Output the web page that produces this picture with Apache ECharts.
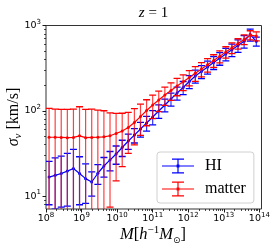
<!DOCTYPE html>
<html><head><meta charset="utf-8">
<script src="https://cdn.jsdelivr.net/npm/echarts@6/dist/echarts.min.js"></script>
<style>html,body{margin:0;padding:0;background:#fff}#c{width:274px;height:251px}</style>
</head><body><div id="c"></div>
<script>
// halo mass bin centres [h^-1 Msun]
const massBins = [1.22e8, 1.81e8, 2.68e8, 3.98e8, 5.91e8, 8.77e8, 1.30e9, 1.93e9, 2.87e9, 4.25e9,
  6.31e9, 9.36e9, 1.39e10, 2.06e10, 3.06e10, 4.54e10, 6.74e10, 1.00e11, 1.48e11, 2.20e11,
  3.27e11, 4.85e11, 7.20e11, 1.07e12, 1.58e12, 2.35e12, 3.49e12, 5.18e12, 7.69e12, 1.14e13,
  1.69e13, 2.51e13, 3.73e13, 5.53e13, 8.21e13];
// HI velocity dispersion [km/s] and errors
const hiSigma = [16.7, 17.5, 18.4, 19.6, 21.0, 18.4, 16.0, 14.6, 18.5, 22.5,
  26.5, 31.1, 37.1, 44.2, 51.9, 61.1, 71.8, 84.5, 99.4, 116.9,
  137.4, 161.6, 187.3, 220.2, 255.3, 288.4, 325.7, 367.8, 412, 462.5,
  518, 582, 651.7, 782, 652];
const hiErr = [8.8, 10.5, 11, 12, 14.3, 10.5, 7.8, 4.6, 4.8, 5.8,
  6.8, 7.5, 8, 9, 10, 12, 14, 16, 18, 20,
  24, 28, 33, 38, 44, 50, 56, 63, 70, 78,
  87, 97, 108, 125, 78];
// matter velocity dispersion [km/s] and errors
const matterSigma = [48.9, 48.9, 48.7, 48.4, 48.7, 50.8, 48.4, 48.7, 48.9, 49.5,
  50.9, 54.1, 57.8, 63.6, 72.8, 85.5, 100.7, 116.7, 133.7, 152.8,
  172.6, 195.0, 218.3, 245.5, 274.8, 308.3, 345.9, 388.2, 434.5, 488.7,
  547.0, 613.8, 687.1, 772.7, 751.6];
const matterErr = [57.9, 55.8, 55.2, 55.5, 56, 60.7, 55.5, 56, 53.1, 50.6,
  43.5, 39, 35.7, 32, 33, 34, 34, 36, 36, 37,
  40, 45, 46, 50, 54, 58, 62, 66, 70, 75,
  80, 85, 90, 95, 90];
const xTickExp = [8, 9, 10, 11, 12, 13, 14];
const yTickExp = [1, 2, 3];
const seriesNames = ['HI', 'matter'];

const X_MIN = 8, X_MAX = 14.06, Y_MIN = 0.848, Y_MAX = 3;
const L = Math.log10;

function minorTicks(lo, hi) {
  const out = [];
  for (let n = Math.floor(lo) - 1; n <= Math.ceil(hi); n++) {
    for (let k = 2; k <= 9; k++) {
      const v = n + L(k);
      if (v > lo && v < hi) out.push(v);
    }
  }
  return out;
}

function errData(sig, err) {
  return massBins.map((m, i) => {
    const lo = sig[i] - err[i];
    return [L(m), lo > 0 ? L(lo) : Y_MIN - 1, L(sig[i] + err[i]), lo > 0 ? 1 : 0];
  });
}
function lineData(sig) { return massBins.map((m, i) => [L(m), L(sig[i])]); }

function makeErrRender(barColor, capColor) {
  return function (params, api) {
    const x = api.value(0);
    const top = api.coord([x, api.value(2)]);
    const bot = api.coord([x, api.value(1)]);
    const hw = 3.5;
    const ch = [
      { type: 'line', shape: { x1: top[0], y1: top[1], x2: bot[0], y2: bot[1] }, style: { stroke: barColor, lineWidth: 1.2 } },
      { type: 'line', shape: { x1: top[0] - hw, y1: top[1], x2: top[0] + hw, y2: top[1] }, style: { stroke: capColor, lineWidth: 1.3 } }
    ];
    if (api.value(3)) ch.push({ type: 'line', shape: { x1: bot[0] - hw, y1: bot[1], x2: bot[0] + hw, y2: bot[1] }, style: { stroke: capColor, lineWidth: 1.3 } });
    return { type: 'group', children: ch };
  };
}

const tickRich = {
  b: { fontSize: 9.5, fontFamily: 'DejaVu Sans', color: '#000', lineHeight: 14 },
  s: { fontSize: 7, fontFamily: 'DejaVu Sans', color: '#000', lineHeight: 5, verticalAlign: 'top' }
};
const expFmt = v => '{b|10}{s|' + Math.round(v) + '}';

const serif = 'Liberation Serif';
const errIcon = 'path://M0,6.9h32v1.2h-32Z M15.4,0h1.2v15h-1.2Z M10,0h12v1.3h-12Z M10,13.7h12v1.3h-12Z M14.6,6.1h2.8v2.8h-2.8Z';

const chart = echarts.init(document.getElementById('c'), null, { renderer: 'canvas' });
chart.setOption({
  animation: false,
  backgroundColor: '#fff',
  grid: { left: 46, right: 12.5, top: 25.5, bottom: 42, show: true, borderColor: '#333', borderWidth: 1, containLabel: false, outerBoundsMode: 'none' },
  xAxis: [
    { type: 'value', min: X_MIN, max: X_MAX, interval: 1, position: 'bottom',
      axisLine: { show: false }, splitLine: { show: false },
      axisTick: { show: true, length: 3.5, lineStyle: { color: '#000', width: 0.9 }, customValues: xTickExp },
      axisLabel: { show: true, margin: 2.5, customValues: xTickExp, formatter: expFmt, rich: tickRich } },
    { type: 'value', min: X_MIN, max: X_MAX, position: 'bottom',
      axisLine: { show: false }, splitLine: { show: false },
      axisTick: { show: true, length: 2, lineStyle: { color: '#000', width: 0.7 }, customValues: minorTicks(X_MIN, X_MAX) },
      axisLabel: { show: false } }
  ],
  yAxis: [
    { type: 'value', min: Y_MIN, max: Y_MAX, interval: 1, position: 'left',
      axisLine: { show: false }, splitLine: { show: false },
      axisTick: { show: true, length: 3.5, lineStyle: { color: '#000', width: 0.9 }, customValues: yTickExp },
      axisLabel: { show: true, margin: 5, customValues: yTickExp, formatter: expFmt, rich: tickRich } },
    { type: 'value', min: Y_MIN, max: Y_MAX, position: 'left',
      axisLine: { show: false }, splitLine: { show: false },
      axisTick: { show: true, length: 2, lineStyle: { color: '#000', width: 0.7 }, customValues: minorTicks(Y_MIN, Y_MAX) },
      axisLabel: { show: false } }
  ],
  legend: {
    data: [{ name: seriesNames[0], icon: errIcon }, { name: seriesNames[1], icon: errIcon }],
    orient: 'vertical', left: 157, top: 152, itemWidth: 32, itemHeight: 15, itemGap: 7,
    padding: [6, 8, 6, 5], selectedMode: false,
    backgroundColor: 'rgba(255,255,255,0.85)', borderColor: '#d0d0d0', borderWidth: 1, borderRadius: 3,
    textStyle: { fontFamily: serif, fontSize: 16, color: '#000', padding: [0, 0, 0, 6] }
  },
  graphic: [
    { type: 'text', x: 153.5, y: 13, style: { text: '{i|z} = 1', fontFamily: serif, fontSize: 15, fill: '#000', textAlign: 'center', textVerticalAlign: 'middle',
      rich: { i: { fontFamily: serif, fontStyle: 'italic', fontSize: 15 } } } },
    { type: 'text', x: 153, y: 235, style: { text: '{i|M}{r|[}{i|h}{sup|−1}{i|M}{sub|⊙}{r|]}', textAlign: 'center', textVerticalAlign: 'middle',
      rich: {
        i: { fontFamily: serif, fontStyle: 'italic', fontSize: 16.5, lineHeight: 20 },
        r: { fontFamily: serif, fontSize: 16.5, lineHeight: 20 },
        sup: { fontFamily: serif, fontSize: 11, lineHeight: 9, verticalAlign: 'top' },
        sub: { fontFamily: 'DejaVu Sans', fontSize: 9, lineHeight: 9, verticalAlign: 'bottom' }
      } } },
    { type: 'text', x: 13.5, y: 117, rotation: Math.PI / 2, style: { text: '{i|σ}{sub|v}{r| [km/s]}', textAlign: 'center', textVerticalAlign: 'middle',
      rich: {
        i: { fontFamily: serif, fontStyle: 'italic', fontSize: 16, lineHeight: 20 },
        r: { fontFamily: serif, fontSize: 16, lineHeight: 20 },
        sub: { fontFamily: serif, fontStyle: 'italic', fontSize: 11, lineHeight: 9, verticalAlign: 'bottom' }
      } } }
  ],
  series: [
    { name: seriesNames[0], type: 'custom', clip: true, z: 2, itemStyle: { color: '#0000ff' },
      renderItem: makeErrRender('rgba(0,0,255,0.8)', '#0000ff'), encode: { x: 0, y: [1, 2] }, data: errData(hiSigma, hiErr) },
    { name: seriesNames[1], type: 'custom', clip: true, z: 4, itemStyle: { color: '#ff0000' },
      renderItem: makeErrRender('rgba(255,0,0,0.75)', '#ff0000'), encode: { x: 0, y: [1, 2] }, data: errData(matterSigma, matterErr) },
    { name: seriesNames[0], type: 'line', z: 3, clip: true, data: lineData(hiSigma), symbol: 'circle', symbolSize: 3, showSymbol: true,
      itemStyle: { color: '#0000ff' }, lineStyle: { color: '#0000ff', width: 1.2 } },
    { name: seriesNames[1], type: 'line', z: 5, clip: true, data: lineData(matterSigma), symbol: 'circle', symbolSize: 3, showSymbol: true,
      itemStyle: { color: '#ff0000' }, lineStyle: { color: '#ff0000', width: 1.2 } }
  ]
});
</script></body></html>
